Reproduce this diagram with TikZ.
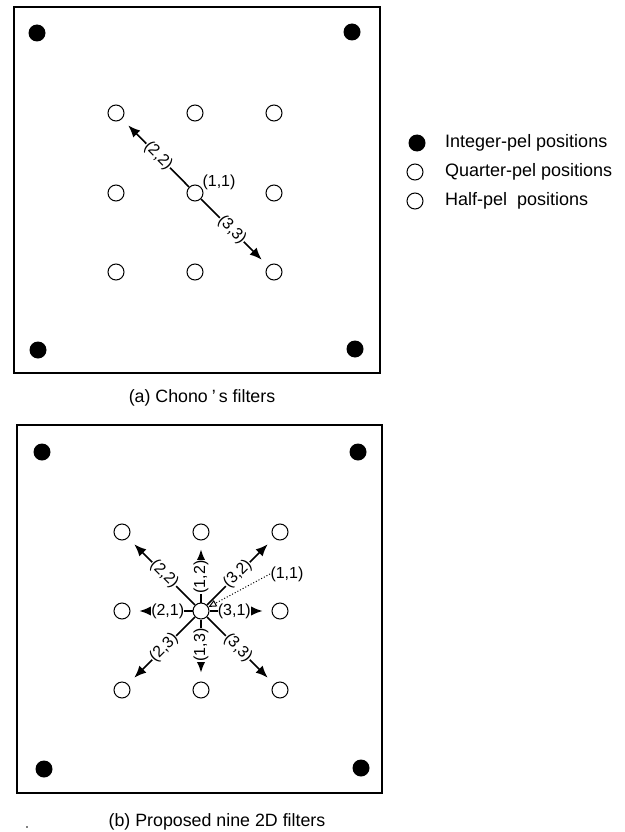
\documentclass[tikz,border=0pt]{standalone}
\usepackage{fontspec}
\setmainfont{Liberation Sans}
\usetikzlibrary{arrows.meta}
\begin{document}
\begin{tikzpicture}[x=1pt,y=1pt,
  pel/.style={circle,draw,line width=1pt,minimum size=16pt,inner sep=0pt},
  intpel/.style={circle,fill=black,minimum size=17pt,inner sep=0pt},
  frame/.style={draw,line width=1.8pt},
  arr/.style={line width=1.6pt,-{Latex[length=12pt,width=10pt]},shorten >=9pt},
  lab/.style={fill=white,inner sep=0.3pt,font=\fontsize{16}{17}\selectfont},
  plainlab/.style={inner sep=0.3pt,font=\fontsize{16}{17}\selectfont},
  captext/.style={font=\fontsize{17.8}{20}\selectfont},
  legtext/.style={font=\fontsize{18}{20}\selectfont,anchor=west,inner sep=0pt}]
\useasboundingbox (0,0) rectangle (624,-832);

% ---------- panel (a) ----------
\draw[frame] (14,-7) rectangle (380,-373);
\node[intpel] (a11) at (37,-33) {};
\node[intpel] (a12) at (352,-32) {};
\node[intpel] (a21) at (38,-350) {};
\node[intpel] (a22) at (355,-349) {};
\node[pel] (aul) at (116,-113) {};
\node[pel] (aum) at (195,-113) {};
\node[pel] (aur) at (274,-113) {};
\node[pel] (aml) at (116,-193) {};
\node[pel] (ac)  at (195,-193) {};
\node[pel] (amr) at (274,-193) {};
\node[pel] (all) at (116,-272) {};
\node[pel] (alm) at (195,-272) {};
\node[pel] (alr) at (274,-272) {};
\draw[arr] (ac) -- (aul) node[lab,pos=0.46,rotate=-45] {(2,2)};
\draw[arr] (ac) -- (alr) node[lab,pos=0.46,rotate=-45] {(3,3)};
\node[plainlab] (a11lab) at (219,-182) {(1,1)};
\node[captext] (acap) at (202,-398) {(a) Chono\hspace{4pt}’\hspace{3pt}s filters};

% ---------- legend ----------
\node[intpel] (lg1) at (417,-143) {};
\node[pel] (lg2) at (415,-172) {};
\node[pel] (lg3) at (415,-201) {};
\node[legtext] (lt1) at (445,-143) {Integer-pel positions};
\node[legtext] (lt2) at (445,-172) {Quarter-pel positions};
\node[legtext] (lt3) at (445,-201) {Half-pel\ \ positions};

% ---------- panel (b) ----------
\draw[frame] (17,-425) rectangle (382,-793);
\node[intpel] (b11) at (42,-452) {};
\node[intpel] (b12) at (358,-452) {};
\node[intpel] (b21) at (44,-769) {};
\node[intpel] (b22) at (361,-768) {};
\node[pel] (bul) at (122,-532) {};
\node[pel] (bum) at (201,-532) {};
\node[pel] (bur) at (280,-532) {};
\node[pel] (bml) at (122,-611) {};
\node[pel] (bc)  at (201,-611) {};
\node[pel] (bmr) at (280,-611) {};
\node[pel] (bll) at (122,-690) {};
\node[pel] (blm) at (201,-690) {};
\node[pel] (blr) at (280,-690) {};
\draw[arr] (bc) -- (bul) node[lab,pos=0.46,rotate=-45] {(2,2)};
\draw[arr] (bc) -- (bum) node[lab,pos=0.41,rotate=90] {(1,2)};
\draw[arr] (bc) -- (bur) node[lab,pos=0.46,rotate=45] {(3,2)};
\draw[arr] (bc) -- (bml) node[lab,pos=0.40] {(2,1)};
\draw[arr] (bc) -- (bmr) node[lab,pos=0.40] {(3,1)};
\draw[arr] (bc) -- (bll) node[lab,pos=0.46,rotate=45] {(2,3)};
\draw[arr] (bc) -- (blm) node[lab,pos=0.41,rotate=90] {(1,3)};
\draw[arr] (bc) -- (blr) node[lab,pos=0.46,rotate=-45] {(3,3)};
\node[plainlab,anchor=west] (b11lab) at (270,-574) {(1,1)};
\draw[line width=1pt,dotted,-{Triangle[open,length=8pt,width=7pt]}] (b11lab.west) -- (bc);
\node[captext] (bcap) at (217,-822) {(b) Proposed nine 2D filters};
\fill (27,-827) circle (0.8);
\end{tikzpicture}
\end{document}
